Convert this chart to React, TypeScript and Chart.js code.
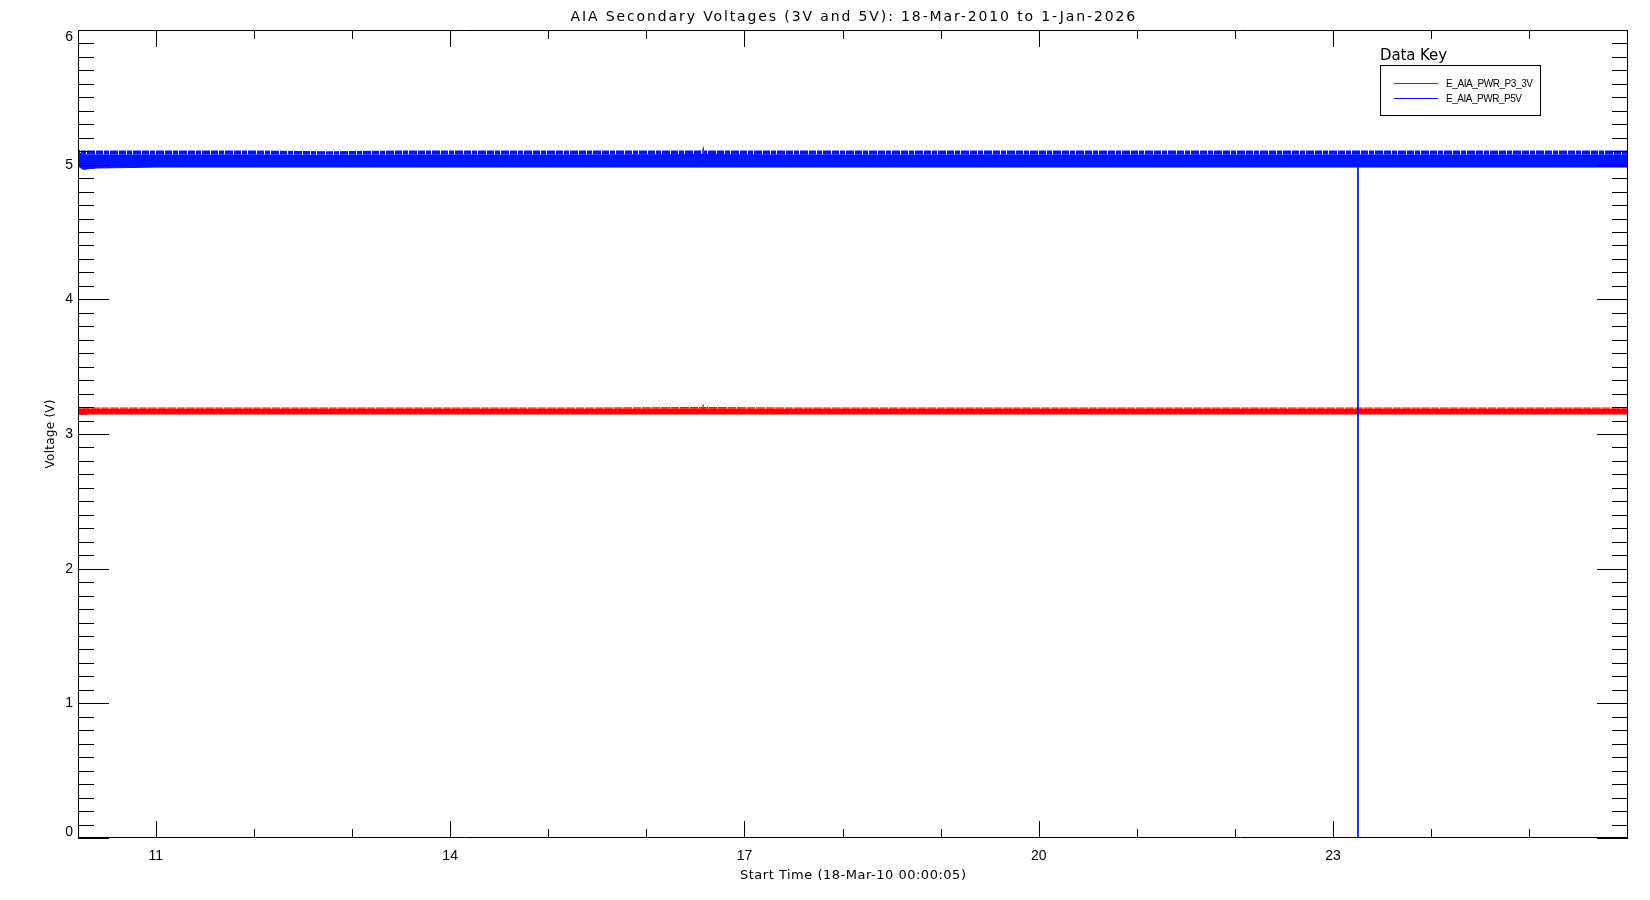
import React, { useEffect, useRef } from "react";
import { Chart, registerables } from "chart.js";

Chart.register(...registerables);

// ---- data (x in years since 2000, y in volts) ----
const envelopeYears = [10.206, 10.26, 10.32, 10.4, 11.0, 12.0, 12.74, 12.76, 13.5, 14.5, 15.5, 16.57, 16.58, 16.59, 17.5, 18.5, 19.5, 20.5, 21.5, 22.5, 23.25, 23.26, 24.0, 25.0, 26.008];
const p5vUpperSpikes = [5.11, 5.105, 5.105, 5.105, 5.105, 5.105, 5.1, 5.1, 5.105, 5.105, 5.105, 5.105, 5.14, 5.105, 5.105, 5.105, 5.105, 5.105, 5.105, 5.105, 5.105, 5.105, 5.105, 5.105, 5.105];
const p5vUpperCore = [5.1, 5.08, 5.078, 5.078, 5.078, 5.078, 5.075, 5.075, 5.078, 5.078, 5.078, 5.08, 5.11, 5.08, 5.078, 5.078, 5.078, 5.078, 5.078, 5.078, 5.078, 5.078, 5.078, 5.078, 5.078];
const p5vLower = [4.99, 4.965, 4.97, 4.975, 4.982, 4.982, 4.982, 4.982, 4.982, 4.982, 4.982, 4.982, 4.982, 4.982, 4.982, 4.982, 4.982, 4.982, 4.982, 4.982, 4.982, 4.982, 4.982, 4.982, 4.982];
const p33UpperSpikes = [3.198, 3.197, 3.197, 3.197, 3.197, 3.197, 3.197, 3.197, 3.197, 3.197, 3.197, 3.2, 3.227, 3.2, 3.197, 3.197, 3.197, 3.197, 3.197, 3.197, 3.197, 3.197, 3.197, 3.197, 3.197];
const p33UpperCore = [3.192, 3.19, 3.19, 3.19, 3.19, 3.19, 3.19, 3.19, 3.19, 3.19, 3.19, 3.192, 3.21, 3.192, 3.19, 3.19, 3.19, 3.19, 3.19, 3.19, 3.19, 3.19, 3.19, 3.19, 3.19];
const p33Lower = [3.148, 3.145, 3.148, 3.148, 3.148, 3.148, 3.148, 3.148, 3.148, 3.148, 3.148, 3.148, 3.148, 3.148, 3.148, 3.148, 3.148, 3.148, 3.148, 3.148, 3.148, 3.148, 3.148, 3.148, 3.148];
const dropoutYears = [23.255, 23.255];
const dropoutP5v = [4.98, 0];

const xTickValues = [11, 12, 13, 14, 15, 16, 17, 18, 19, 20, 21, 22, 23, 24, 25, 26];
const xLabelValues = [11, 14, 17, 20, 23];
const yTickValues = [0, 1, 2, 3, 4, 5, 6];

const seriesNames = ["E_AIA_PWR_P3_3V", "E_AIA_PWR_P5V"];
const titleText = "AIA Secondary Voltages (3V and 5V): 18-Mar-2010 to 1-Jan-2026";
const xTitleText = "Start Time (18-Mar-10 00:00:05)";
const yTitleText = "Voltage (V)";
const legendTitle = "Data Key";

const X_MIN = 10.206;
const X_MAX = 26.008;
const BLUE = "#0014ff";
const RED = "#ff0000";
const FONT = "'Liberation Sans', Arial, sans-serif";
const TFONT = "'DejaVu Sans', 'Liberation Sans', sans-serif";

const pts = (xs: number[], ys: number[]) => xs.map((x, i) => ({ x, y: ys[i] }));

function makePattern(color: string, gaps: number[], width: number): CanvasPattern | string {
  const c = document.createElement("canvas");
  c.width = width;
  c.height = 2;
  const g = c.getContext("2d");
  if (!g) return color;
  g.fillStyle = color;
  g.fillRect(0, 0, width, 2);
  g.fillStyle = "#ffffff";
  gaps.forEach((gx) => g.fillRect(gx, 0, 1, 2));
  return g.createPattern(c, "repeat") || color;
}

function fitText(ctx: CanvasRenderingContext2D, text: string, x: number, y: number, width: number, font: string, align: "left" | "center") {
  ctx.save();
  ctx.font = font;
  (ctx as any).letterSpacing = "0px";
  const w = ctx.measureText(text).width;
  const sp = text.length > 1 ? (width - w) / (text.length - 1) : 0;
  (ctx as any).letterSpacing = sp.toFixed(2) + "px";
  ctx.textAlign = "left";
  ctx.textBaseline = "middle";
  ctx.fillStyle = "#000";
  const left = align === "center" ? x - width / 2 : x;
  ctx.fillText(text, left, y);
  ctx.restore();
}

const framePlugin = {
  id: "idlFrame",
  afterDraw(chart: any) {
    const { ctx, chartArea } = chart;
    const xs = chart.scales.x;
    const ys = chart.scales.y;
    const L = chartArea.left, R = chartArea.right, T = chartArea.top, B = chartArea.bottom;
    ctx.save();
    ctx.strokeStyle = "#000";
    ctx.lineWidth = 1;
    ctx.beginPath();
    ctx.rect(L + 0.5, T + 0.5, R - L - 1, B - T - 1);
    ctx.stroke();
    ctx.beginPath();
    xTickValues.forEach((v) => {
      const px = Math.round(xs.getPixelForValue(v)) + 0.5;
      const len = xLabelValues.includes(v) ? 17 : 9;
      ctx.moveTo(px, B);
      ctx.lineTo(px, B - len);
      ctx.moveTo(px, T);
      ctx.lineTo(px, T + len);
    });
    for (let i = 0; i <= 60; i++) {
      const v = i / 10;
      const py = Math.round(ys.getPixelForValue(v)) + 0.5;
      const len = i % 10 === 0 ? 31 : 16;
      ctx.moveTo(L, py);
      ctx.lineTo(L + len, py);
      ctx.moveTo(R, py);
      ctx.lineTo(R - len, py);
    }
    ctx.stroke();

    // y tick labels (kept inside the frame's vertical span, as in the original)
    ctx.font = `14px ${FONT}`;
    ctx.fillStyle = "#000";
    ctx.textAlign = "right";
    ctx.textBaseline = "middle";
    yTickValues.forEach((v) => {
      let py = ys.getPixelForValue(v);
      if (py - T < 7) py = T + 7;
      if (B - py < 6) py = B - 6;
      ctx.fillText(String(v), L - 5, py);
    });

    // titles
    const cx = (L + R) / 2;
    fitText(ctx, titleText, cx, 17, 565, `14px ${TFONT}`, "center");
    fitText(ctx, xTitleText, cx, 876, 226, `13px ${TFONT}`, "center");
    ctx.save();
    ctx.translate(51, 434);
    ctx.rotate(-Math.PI / 2);
    fitText(ctx, yTitleText, 0, 0, 69, `12px ${TFONT}`, "center");
    ctx.restore();

    // legend
    fitText(ctx, legendTitle, 1380, 56, 67, `15px ${TFONT}`, "left");
    ctx.strokeStyle = "#000";
    ctx.lineWidth = 1;
    ctx.strokeRect(1380.5, 65.5, 160, 50);
    const rows = [
      { name: seriesNames[0], color: RED, y: 83.5, w: 87 },
      { name: seriesNames[1], color: BLUE, y: 98.5, w: 76 },
    ];
    rows.forEach((r) => {
      ctx.strokeStyle = r.color;
      ctx.beginPath();
      ctx.moveTo(1394, r.y);
      ctx.lineTo(1438, r.y);
      ctx.stroke();
      fitText(ctx, r.name, 1446, r.y + 1, r.w, `10px ${FONT}`, "left");
    });
    ctx.restore();
  },
};

export default function App() {
  const ref = useRef<HTMLCanvasElement | null>(null);
  useEffect(() => {
    if (!ref.current) return;
    const bluePattern = makePattern(BLUE, [3, 11, 17], 23);
    const redPattern = makePattern(RED, [5, 14], 19);
    const line = (data: any, color: string, extra: any) => ({
      data,
      borderColor: color,
      backgroundColor: color,
      borderWidth: 0,
      pointRadius: 0,
      tension: 0,
      ...extra,
    });
    const chart = new Chart(ref.current, {
      type: "line",
      data: {
        datasets: [
          line(pts(dropoutYears, dropoutP5v), BLUE, { borderWidth: 1, fill: false, label: seriesNames[1] }),
          line(pts(envelopeYears, p5vUpperSpikes), BLUE, { fill: "+1", backgroundColor: bluePattern, label: seriesNames[1] }),
          line(pts(envelopeYears, p5vUpperCore), BLUE, { fill: "+1", label: seriesNames[1] }),
          line(pts(envelopeYears, p5vLower), BLUE, { borderWidth: 1, fill: false, label: seriesNames[1] }),
          line(pts(envelopeYears, p33UpperSpikes), RED, { fill: "+1", backgroundColor: redPattern, label: seriesNames[0] }),
          line(pts(envelopeYears, p33UpperCore), RED, { fill: "+1", label: seriesNames[0] }),
          line(pts(envelopeYears, p33Lower), RED, { borderWidth: 1, fill: false, label: seriesNames[0] }),
        ],
      },
      options: {
        animation: false,
        responsive: false,
        devicePixelRatio: 1,
        layout: { padding: { top: 30, right: 22, left: 0, bottom: 0 } },
        plugins: { legend: { display: false }, tooltip: { enabled: false }, title: { display: false } },
        scales: {
          x: {
            type: "linear",
            min: X_MIN,
            max: X_MAX,
            afterBuildTicks: (s: any) => {
              s.ticks = xTickValues.map((v) => ({ value: v }));
            },
            afterFit: (s: any) => {
              s.height = 62;
            },
            grid: { display: false, drawTicks: false },
            border: { display: false },
            ticks: {
              autoSkip: false,
              maxRotation: 0,
              padding: 10,
              color: "#000",
              font: { family: FONT, size: 14 },
              callback: (v: any) => (xLabelValues.includes(Number(v)) ? String(v) : ""),
            },
          },
          y: {
            type: "linear",
            min: 0,
            max: 6,
            afterBuildTicks: (s: any) => {
              s.ticks = yTickValues.map((v) => ({ value: v }));
            },
            afterFit: (s: any) => {
              s.width = 78;
            },
            grid: { display: false, drawTicks: false },
            border: { display: false },
            ticks: { display: false },
          },
        },
      },
      plugins: [framePlugin],
    });
    return () => chart.destroy();
  }, []);
  return (
    <div style={{ position: "fixed", left: 0, top: 0, width: 1650, height: 900, background: "#fff" }}>
      <canvas ref={ref} width={1650} height={900} style={{ display: "block", width: 1650, height: 900 }} />
    </div>
  );
}
